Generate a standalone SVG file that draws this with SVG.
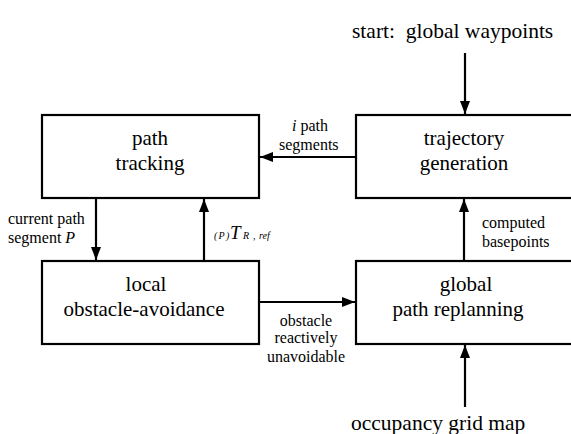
<svg xmlns="http://www.w3.org/2000/svg" width="571" height="434" viewBox="0 0 571 434">
<defs>
<marker id="ah" viewBox="0 0 13 10" refX="13" refY="5" markerWidth="13" markerHeight="10" markerUnits="userSpaceOnUse" orient="auto">
<path d="M0,0 L13,5 L0,10 Z" fill="#000"/>
</marker>
</defs>
<style>
.box{fill:#fff;stroke:#000;stroke-width:2.2}
.t{font-size:21px;text-anchor:middle}
.s{font-size:16px}
.m{text-anchor:middle}
.ext{font-size:21.5px}
.c{stroke:#000;stroke-width:2.2;fill:none;marker-end:url(#ah)}
</style>
<rect width="571" height="434" fill="#fff"/>
<g id="connectors" font-family="Liberation Serif">
<line class="c" x1="465" y1="53" x2="465" y2="114"/>
<line class="c" x1="356" y1="157" x2="260" y2="157"/>
<line class="c" x1="96" y1="198" x2="96" y2="260"/>
<line class="c" x1="204" y1="261" x2="204" y2="199"/>
<line class="c" x1="464" y1="261" x2="464" y2="199"/>
<line class="c" x1="259" y1="302" x2="355" y2="302"/>
<line class="c" x1="465" y1="407" x2="465" y2="345"/>
<text class="s" font-family="Liberation Serif" x="292" y="131"><tspan font-style="italic">i</tspan> path</text>
<text class="s" font-family="Liberation Serif" x="279" y="150">segments</text>
<text class="s" font-family="Liberation Serif" x="8" y="224">current path</text>
<text class="s" font-family="Liberation Serif" x="8" y="243">segment <tspan font-style="italic">P</tspan></text>
<text font-family="Liberation Serif" font-style="italic" y="239"><tspan x="214" font-size="10">(</tspan><tspan x="218.5" font-size="10">P</tspan><tspan x="226" font-size="10">)</tspan><tspan x="230" font-size="19">T</tspan><tspan x="243" font-size="10">R</tspan><tspan x="253" font-size="10">,</tspan><tspan x="259" font-size="10">ref</tspan></text>
<text class="s" font-family="Liberation Serif" x="482" y="228">computed</text>
<text class="s" font-family="Liberation Serif" x="482" y="247">basepoints</text>
<text class="s m" font-family="Liberation Serif" x="306" y="326">obstacle</text>
<text class="s m" font-family="Liberation Serif" x="306" y="343">reactively</text>
<text class="s m" font-family="Liberation Serif" x="306" y="362">unavoidable</text>
</g>
<g id="start"><text class="ext" font-family="Liberation Serif" x="352" y="38" xml:space="preserve">start:  global waypoints</text></g>
<g id="occupancy"><text class="ext" font-family="Liberation Serif" x="351" y="430">occupancy grid map</text></g>
<g id="path-tracking">
<rect class="box" x="42" y="115" width="217" height="83"/>
<text class="t" font-family="Liberation Serif" x="150" y="145">path</text>
<text class="t" font-family="Liberation Serif" x="150" y="170">tracking</text>
</g>
<g id="trajectory-generation">
<rect class="box" x="356" y="115" width="225" height="83"/>
<text class="t" font-family="Liberation Serif" x="464" y="145">trajectory</text>
<text class="t" font-family="Liberation Serif" x="464" y="170">generation</text>
</g>
<g id="local-obstacle-avoidance">
<rect class="box" x="42" y="261" width="217" height="83"/>
<text class="t" font-family="Liberation Serif" x="146" y="291">local</text>
<text class="t" font-family="Liberation Serif" x="144" y="316">obstacle-avoidance</text>
</g>
<g id="global-path-replanning">
<rect class="box" x="356" y="261" width="225" height="83"/>
<text class="t" font-family="Liberation Serif" x="466" y="291">global</text>
<text class="t" font-family="Liberation Serif" x="458" y="316">path replanning</text>
</g>
</svg>
